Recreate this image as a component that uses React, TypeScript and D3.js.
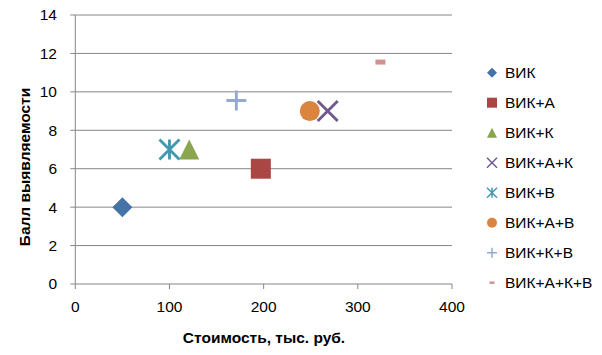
import React from "react";
import * as d3 from "d3";

const seriesNames = ["ВИК", "ВИК+А", "ВИК+К", "ВИК+А+К", "ВИК+В", "ВИК+А+В", "ВИК+К+В", "ВИК+А+К+В"];
const costValues = [50, 197, 121, 268, 100, 249, 171, 324];
const scoreValues = [4, 6, 7, 9, 7, 9, 9.55, 11.55];
const xTicks = [0, 100, 200, 300, 400];
const yTicks = [0, 2, 4, 6, 8, 10, 12, 14];
const markerKinds = ["diamond", "square", "triangle", "x", "star", "circle", "plus", "dash"];
const markerColors = ["#4572A7", "#AA4643", "#89A54E", "#71588F", "#4198AF", "#DB843D", "#93A9CF", "#D19392"];

const FONT = "'Liberation Sans', Arial, sans-serif";

function Marker({ kind, cx, cy, s, color }: { kind: string; cx: number; cy: number; s: number; color: string }) {
  const h = s / 2;
  const sw = Math.max(1.5, s / 7);
  switch (kind) {
    case "diamond":
      return <path d={`M${cx},${cy - h}L${cx + h},${cy}L${cx},${cy + h}L${cx - h},${cy}Z`} fill={color} />;
    case "square":
      return <rect x={cx - h} y={cy - h} width={s} height={s} fill={color} />;
    case "triangle":
      return <path d={`M${cx},${cy - h}L${cx + h},${cy + h}L${cx - h},${cy + h}Z`} fill={color} />;
    case "circle":
      return <circle cx={cx} cy={cy} r={h} fill={color} />;
    case "x":
      return (
        <path d={`M${cx - h},${cy - h}L${cx + h},${cy + h}M${cx + h},${cy - h}L${cx - h},${cy + h}`} stroke={color} strokeWidth={sw} fill="none" />
      );
    case "star":
      return (
        <path
          d={`M${cx - h},${cy - h}L${cx + h},${cy + h}M${cx + h},${cy - h}L${cx - h},${cy + h}M${cx},${cy - h}L${cx},${cy + h}`}
          stroke={color}
          strokeWidth={sw}
          fill="none"
        />
      );
    case "plus":
      return <path d={`M${cx - h},${cy}L${cx + h},${cy}M${cx},${cy - h}L${cx},${cy + h}`} stroke={color} strokeWidth={sw} fill="none" />;
    case "dash":
      return <rect x={cx - s / 4} y={cy - s / 8} width={s / 2} height={s / 4} fill={color} />;
    default:
      return null;
  }
}

export default function App() {
  const W = 602;
  const H = 355;
  const left = 75.3;
  const right = 452;
  const top = 15;
  const bottom = 284;
  const x = d3.scaleLinear().domain([0, 400]).range([left, right]);
  const y = d3.scaleLinear().domain([0, 14]).range([bottom, top]);
  const grid = "#868686";

  return (
    <svg width={W} height={H} style={{ position: "absolute", left: 0, top: 0, background: "#fff" }} fontFamily={FONT}>
      <rect width={W} height={H} fill="#fff" />
      {yTicks.filter((t) => t > 0).map((t) => (
        <line key={"g" + t} x1={left} x2={right} y1={y(t)} y2={y(t)} stroke={grid} strokeWidth={1} />
      ))}
      <line x1={left} x2={left} y1={top} y2={bottom} stroke={grid} />
      <line x1={left} x2={right} y1={bottom} y2={bottom} stroke={grid} />
      {yTicks.map((t) => (
        <g key={"y" + t}>
          <line x1={left - 5} x2={left} y1={y(t)} y2={y(t)} stroke={grid} />
          <text x={57} y={y(t)} dy="0.35em" textAnchor="end" fontSize={15.5} fill="#000">
            {t}
          </text>
        </g>
      ))}
      {xTicks.map((t) => (
        <g key={"x" + t}>
          <line x1={x(t)} x2={x(t)} y1={bottom} y2={bottom + 5} stroke={grid} />
          <text x={x(t)} y={307} dy="0.35em" textAnchor="middle" fontSize={15.5} fill="#000">
            {t}
          </text>
        </g>
      ))}
      <text x={264} y={338} dy="0.35em" textAnchor="middle" fontSize={15.5} fontWeight="bold" fill="#000">
        Стоимость, тыс. руб.
      </text>
      <text
        transform={`translate(25,167) rotate(-90)`}
        dy="0.35em"
        textAnchor="middle"
        fontSize={15.5}
        fontWeight="bold"
        fill="#000"
      >
        Балл выявляемости
      </text>
      {seriesNames.map((name, i) => (
        <Marker key={"m" + name} kind={markerKinds[i]} cx={x(costValues[i])} cy={y(scoreValues[i])} s={20} color={markerColors[i]} />
      ))}
      {seriesNames.map((name, i) => {
        const ly = 72.7 + i * 30;
        return (
          <g key={"l" + name}>
            <Marker kind={markerKinds[i]} cx={492} cy={ly} s={10} color={markerColors[i]} />
            <text x={505} y={ly} dy="0.35em" fontSize={15.5} fill="#000">
              {name}
            </text>
          </g>
        );
      })}
    </svg>
  );
}
